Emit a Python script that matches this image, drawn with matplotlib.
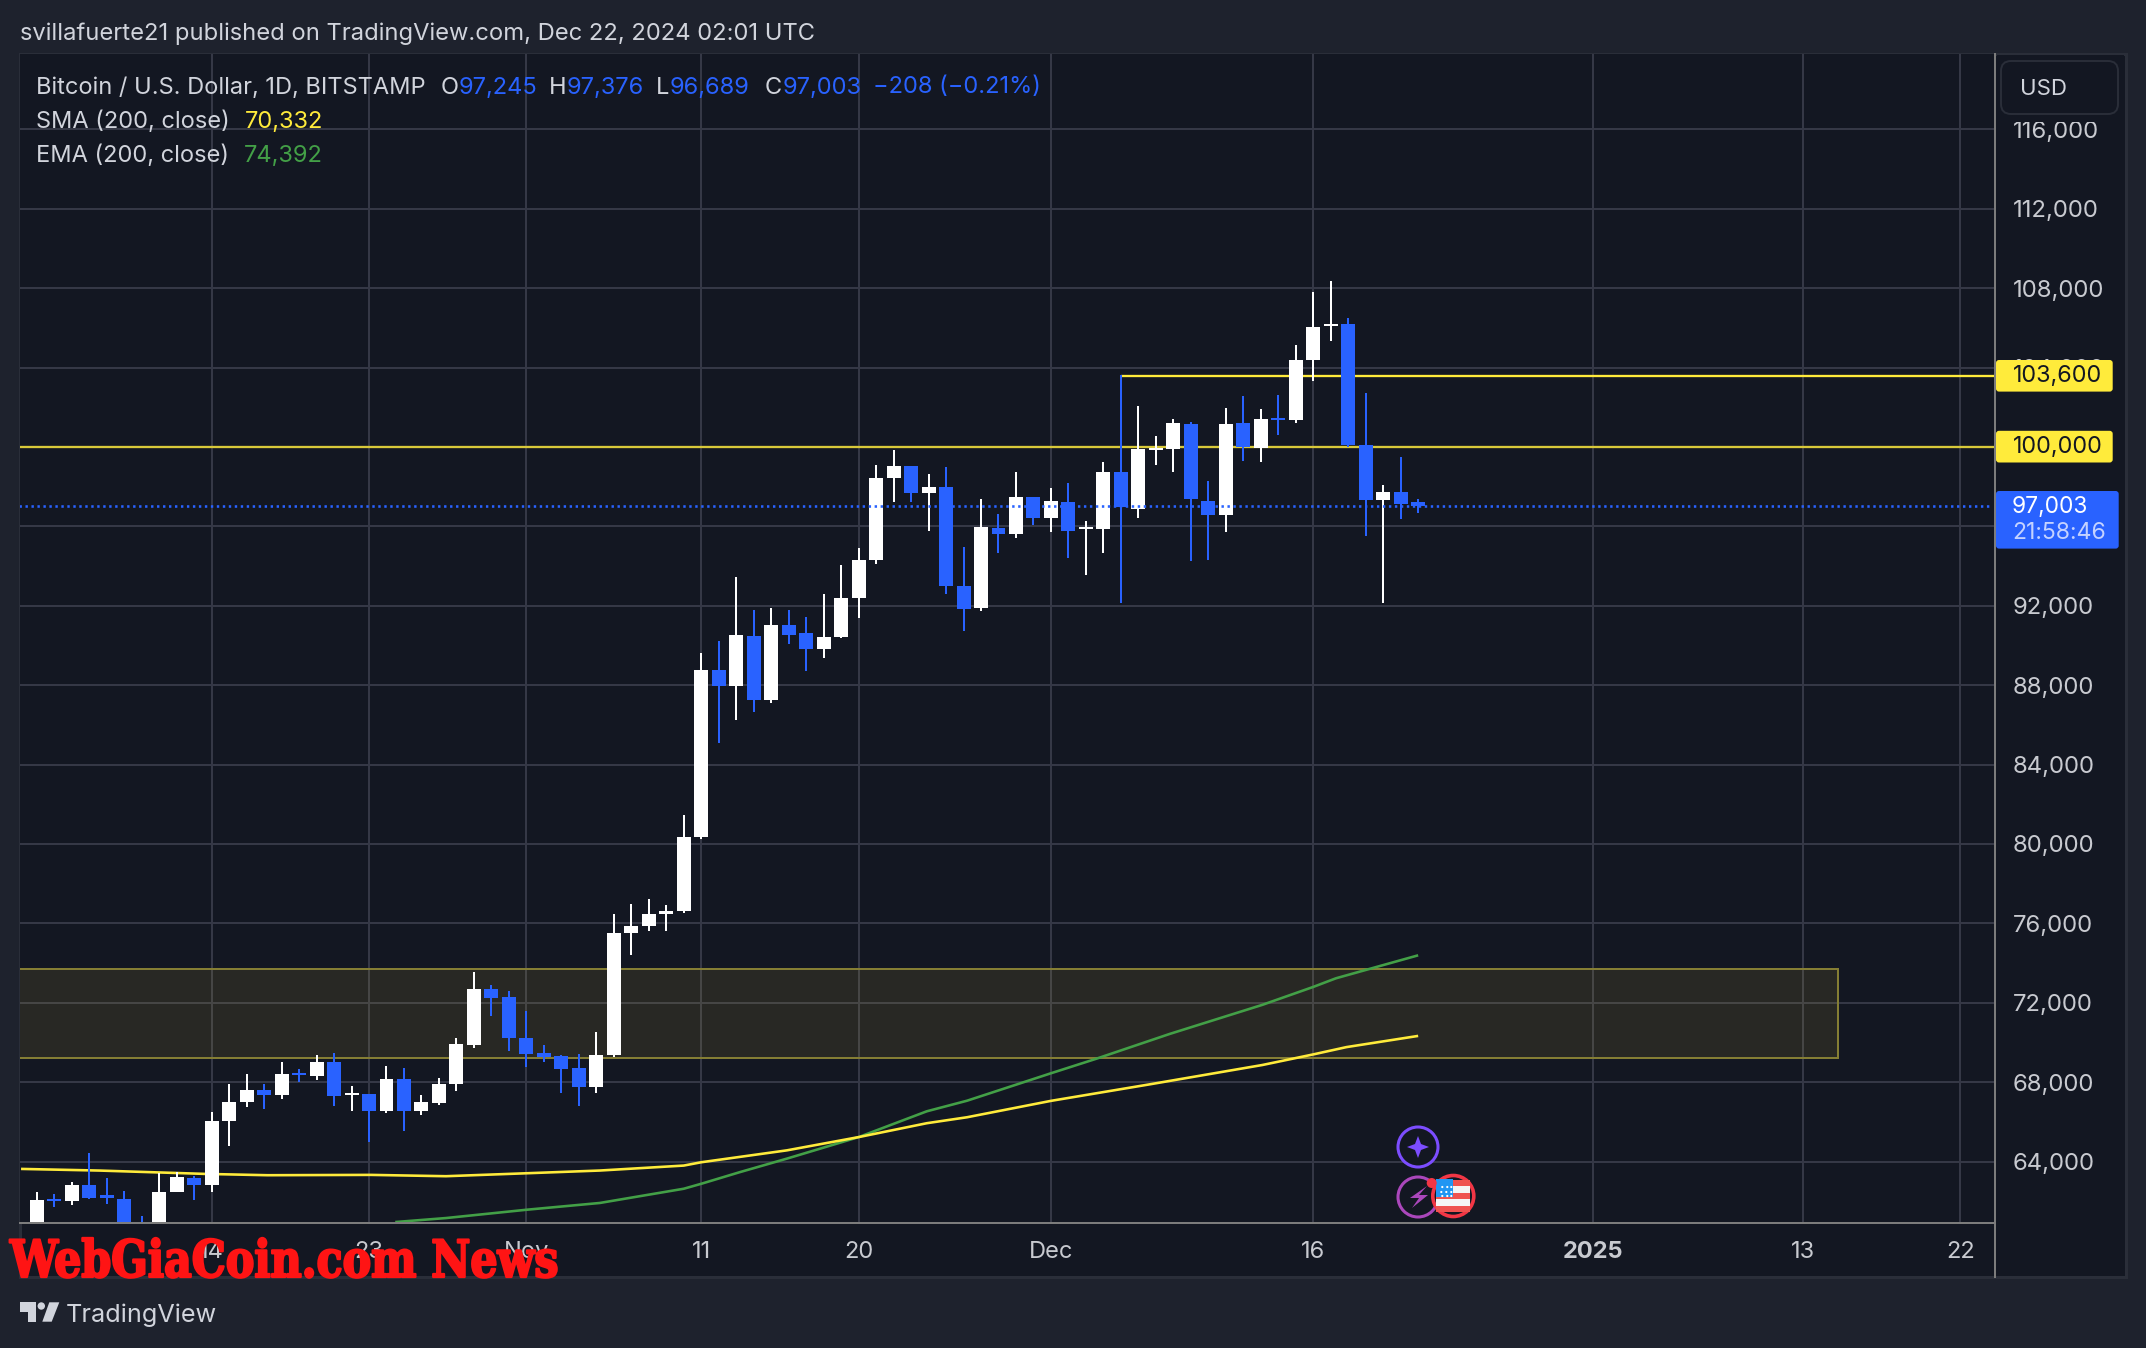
import matplotlib
matplotlib.use("Agg")
import matplotlib.pyplot as plt
from matplotlib.patches import Rectangle, FancyBboxPatch, Circle, Polygon
from matplotlib.lines import Line2D
from matplotlib.transforms import Affine2D
from matplotlib.ticker import FuncFormatter
import matplotlib.patheffects as pe

plt.rcParams['font.family'] = ['Inter', 'DejaVu Sans']

# day index: 0 = 14 Oct 2024
days = list(range(-11, 70))
opens = [60000, 60800, 62120, 62026, 62829, 62300, 62126, 60500, 60600, 62478, 63180, 62829, 66041, 66995, 67597, 67346,
         68450, 68300, 69002, 67350, 67396, 66543, 68149, 66543, 66944, 67898, 69856, 72716, 72315, 70207, 69454, 69304,
         68701, 67748, 69354, 75532, 75845, 76488, 76645, 80332, 88766, 87983, 90488, 87253, 91044, 90644, 89827, 90435,
         92400, 94313, 98417, 99026, 97704, 98000, 93009, 91896, 95930, 95635, 97496, 96435, 97252, 95878, 95875, 98742,
         96881, 99849, 99899, 101157, 97283, 96579, 101207, 99950, 101459, 101358, 104377, 106087, 106188, 100101, 97334,
         97736, 97245]
highs = [61457, 62461, 62377, 62979, 64418, 63180, 62528, 61273, 63414, 63481, 63280, 66493, 67898, 68400, 67898, 69002,
         68651, 69354, 69454, 67798, 67396, 68802, 68701, 67346, 68199, 70207, 73570, 72917, 72616, 71562, 69856, 69354,
         69404, 70508, 76453, 76958, 77254, 76906, 81445, 89618, 90227, 93461, 91792, 91896, 91792, 91444, 92609, 94070,
         94922, 99113, 99826, 99026, 98661, 98974, 94974, 97356, 96643, 98765, 97496, 97913, 98209, 96296, 99245, 103622,
         102063, 100553, 101409, 101258, 98289, 101962, 102566, 101912, 102616, 105132, 107798, 108351, 106490, 102717, 98088,
         99497, 97376]
lows = [59500, 60300, 61725, 61825, 62126, 61875, 60000, 60000, 60300, 62478, 62076, 62478, 64786, 66744, 66643, 67145,
        67998, 68099, 66794, 66543, 64987, 66443, 65539, 66342, 66844, 67547, 69705, 71311, 69554, 68751, 69002, 67446,
        66794, 67446, 69270, 74419, 75636, 75636, 76541, 80228, 85097, 86244, 86644, 87096, 90087, 88714, 89374, 90383,
        91392, 94122, 97252, 97252, 95791, 92609, 90731, 91740, 94678, 95426, 96087, 95739, 94417, 93565, 94667, 92118,
        96428, 99094, 98742, 94265, 94315, 95724, 99296, 99245, 100604, 101207, 103320, 105333, 100000, 95522, 92118,
        96378, 96689]
closes = [60700, 62076, 62030, 62829, 62176, 62190, 60500, 60300, 62478, 63230, 62829, 66041, 66995, 67597, 67346, 68400,
          68350, 69002, 67296, 67450, 66543, 68149, 66543, 66995, 67898, 69906, 72716, 72265, 70207, 69404, 69253, 68651,
          67748, 69354, 75532, 75845, 76488, 76645, 80332, 88766, 87983, 90540, 87253, 91044, 90540, 89827, 90435, 92400,
          94313, 98417, 99026, 97704, 98000, 93009, 91844, 95983, 95635, 97496, 96400, 97304, 95791, 95983, 98742, 96981,
          99899, 99950, 101207, 97384, 96579, 101157, 100000, 101409, 101358, 104377, 106037, 106188, 100101, 97334, 97736,
          97132, 97003]

sma_days = [-10.9, -6.4, -0.4, 3.2, 9.1, 13.4, 18.05, 22.2, 27, 28, 32.9, 37, 40.9, 43.2, 48, 53.7, 60.1, 63, 64.9, 69]
sma_vals = [63632, 63548, 63381, 63314, 63331, 63264, 63414, 63550, 63800, 63967, 64567, 65234, 65934, 66234, 67060,
            67900, 68868, 69400, 69768, 70332]
ema_days = [10.5, 13.4, 18, 22.2, 27, 28, 30.2, 32.9, 37, 40.9, 43.2, 48, 50.6, 54.8, 60.1, 63, 64.3, 69]
ema_vals = [60955, 61156, 61574, 61916, 62633, 62883, 63467, 64150, 65234, 66534, 67067, 68450, 69184, 70434, 71900,
            72800, 73235, 74392]

y_ticks = [64000, 68000, 72000, 76000, 80000, 84000, 88000, 92000, 96000, 100000, 104000, 108000, 112000, 116000]
x_ticks = [0, 9, 18, 28, 37, 48, 63, 79, 91, 100]
x_labels = ['14', '23', 'Nov', '11', '20', 'Dec', '16', '2025', '13', '22']
level_prices = [100000, 103600]
zone_low, zone_high = 69234, 73703
zone_end_day = 93.0
last_price = 97003

BG = '#1e222d'; PANEL = '#131722'; GRID = '#353846'; AXIS = '#7c7c7c'; FRAME = '#2a2e39'
WHITE = '#ffffff'; BLUE = '#2962ff'; YEL = '#ffeb3b'; GREEN = '#43a047'; TXT = '#d1d4dc'; TICK = '#c8cad0'

W, H = 2146, 1348
PX = 0.72  # points per pixel at dpi 100
fig = plt.figure(figsize=(W / 100, H / 100), dpi=100, facecolor=BG)
px = Affine2D().scale(1, -1).translate(0, H)


class Squeeze(pe.AbstractPathEffect):
    """Narrow the glyphs of a text horizontally around a fixed x (in pixels)."""

    def __init__(self, x0, sx, stroke):
        super().__init__()
        self.x0, self.sx, self.stroke = x0, sx, stroke

    def draw_path(self, renderer, gc, tpath, affine, rgbFace):
        t = affine + Affine2D().translate(-self.x0, 0).scale(self.sx, 1).translate(self.x0, 0)
        gc0 = renderer.new_gc()
        gc0.copy_properties(gc)
        gc0.set_linewidth(self.stroke)
        gc0.set_foreground(rgbFace)
        renderer.draw_path(gc0, tpath, t, rgbFace)
        gc0.restore()


# full panel underneath
fig.add_artist(Rectangle((20, 54), 2106, 1223, transform=px, fc=PANEL, ec=FRAME, lw=3 * PX, zorder=0))

L, R, T, B = 20, 1995, 54, 1222.7
ax = fig.add_axes([L / W, 1 - B / H, (R - L) / W, (B - T) / H], facecolor=PANEL)
ax.set_xlim(-10.96, 101.99)
ax.set_ylim(60922, 119798)
for s in ax.spines.values():
    s.set_visible(False)

ax.set_axisbelow(True)
ax.grid(True, color=GRID, lw=2 * PX)
ax.yaxis.tick_right()
ax.set_yticks(y_ticks)
ax.yaxis.set_major_formatter(FuncFormatter(lambda v, _: f'{int(v):,}'))
ax.tick_params(axis='y', length=0, pad=13, labelsize=17.2, labelcolor=TICK)
ax.set_xticks(x_ticks)
ax.set_xticklabels(x_labels)
ax.tick_params(axis='x', length=0, pad=13, labelsize=17, labelcolor=TICK)
for t, lab in zip(ax.get_xticklabels(), x_labels):
    if lab == '2025':
        t.set_fontweight('bold')

# support / resistance zone
ax.add_patch(Rectangle((-12, zone_low), zone_end_day + 12, zone_high - zone_low, fc='#fcd443', alpha=0.09, ec='none', zorder=1.6))
ax.add_patch(Rectangle((-12, zone_low), zone_end_day + 12, zone_high - zone_low, fc='none', ec='#857e34', lw=2 * PX, zorder=1.7))

# levels
ax.plot([-11, 102], [level_prices[0]] * 2, color='#d8c93a', lw=2.3 * PX, zorder=2, solid_capstyle='butt')
ax.plot([52, 102], [level_prices[1]] * 2, color=YEL, lw=2.3 * PX, zorder=2, solid_capstyle='butt')

# moving averages
ax.plot(ema_days, ema_vals, color=GREEN, lw=2.6 * PX, zorder=2.2, solid_capstyle='butt')
ax.plot(sma_days, sma_vals, color=YEL, lw=2.6 * PX, zorder=2.3, solid_capstyle='butt')

# candles
colors = [BLUE if c < o else WHITE for o, c in zip(opens, closes)]
ax.vlines(days, lows, highs, colors=colors, lw=2 * PX, zorder=3)
ax.bar(days, [abs(c - o) for o, c in zip(opens, closes)], bottom=[min(o, c) for o, c in zip(opens, closes)],
       width=0.8, color=colors, linewidth=0, zorder=3.1)

# last price line
ax.plot([-11, 101.7], [last_price] * 2, color=BLUE, lw=2.6 * PX, zorder=3.5, linestyle=(0, (0.92, 1.38)), dash_capstyle='butt')

# axis lines
fig.add_artist(Line2D([20, 1995], [B, B], transform=px, color=AXIS, lw=2 * PX, zorder=5))
fig.add_artist(Line2D([1995, 1995], [54, 1277], transform=px, color=AXIS, lw=2 * PX, zorder=5))


def ptext(x, y, s, color=TXT, size=16, ha='left', va='center', **kw):
    return ax.text(x, y, s, transform=px, color=color, fontsize=size, ha=ha, va=va, clip_on=False, zorder=20, **kw)


def padd(p):
    p.set_clip_on(False)
    p.set_transform(px)
    ax.add_patch(p)
    return p


# hide top tick behind the currency button
padd(Rectangle((1997, 55), 127, 67, fc=PANEL, ec='none', zorder=12))
padd(FancyBboxPatch((2004, 64), 111, 47, boxstyle='round,pad=3,rounding_size=10', fc=PANEL, ec=FRAME, lw=1.4, zorder=13))
ptext(2020, 89, 'USD', size=16, color=TXT)

# price labels
for top, bot, txt in [(360, 391.6, '103,600'), (430.8, 462.5, '100,000')]:
    padd(FancyBboxPatch((1999, top + 3), 110.7, bot - top - 6, boxstyle='round,pad=3,rounding_size=3', fc=YEL, ec='none', zorder=13))
    ptext(2013, (top + bot) / 2 + 0.5, txt, color='#131722', size=16.8)
padd(FancyBboxPatch((1999, 494), 116.7, 51.6, boxstyle='round,pad=3,rounding_size=3', fc=BLUE, ec='none', zorder=13))
ptext(2012, 507, '97,003', color='#ffffff', size=16.4)
ptext(2012, 533, '21:58:46', color='#c4d2ff', size=16.6)

# header and legend
ptext(20, 34, 'svillafuerte21 published on TradingView.com, Dec 22, 2024 02:01 UTC', size=17.1)
ptext(36, 87.5, 'Bitcoin / U.S. Dollar, 1D, BITSTAMP', size=17)
for x, s, c in [(441, 'O', TXT), (459, '97,245', BLUE), (549, 'H', TXT), (567, '97,376', BLUE), (656, 'L', TXT),
                (670, '96,689', BLUE), (765, 'C', TXT), (783, '97,003', BLUE), (873, '−208 (−0.21%)', BLUE)]:
    ptext(x, 87.5, s, color=c, size=17)
ptext(36, 121.5, 'SMA (200, close)', size=17)
ptext(245, 121.5, '70,332', color=YEL, size=17)
ptext(36, 155.5, 'EMA (200, close)', size=17)
ptext(244, 155.5, '74,392', color=GREEN, size=17)

# icons
VIO = '#7c4dff'; MAG = '#ab47bc'; RED = '#f23645'
padd(Circle((1418, 1147), 20, fc=PANEL, ec=VIO, lw=2.2, zorder=14))
cx, cy = 1418, 1147
padd(Polygon([(cx, cy - 11), (cx + 3, cy - 3), (cx + 11, cy), (cx + 3, cy + 3), (cx, cy + 11), (cx - 3, cy + 3), (cx - 11, cy), (cx - 3, cy - 3)],
             closed=True, fc=VIO, ec='none', zorder=15))
padd(Circle((1418, 1197), 20, fc=PANEL, ec=MAG, lw=2.2, zorder=14))
cx, cy = 1418, 1197
padd(Polygon([(cx + 9, cy - 11), (cx - 8, cy + 1), (cx + 1, cy + 1), (cx - 6, cy + 11), (cx + 10, cy - 2), (cx + 1, cy - 2)],
             closed=True, fc=MAG, ec='none', zorder=15))
fx, fy = 1453.3, 1196
padd(Circle((fx, fy), 20.5, fc=PANEL, ec=RED, lw=2.6, zorder=15))
clip = padd(Circle((fx, fy), 16, fc='#f5f5f5', ec='none', zorder=16))
for i, col in enumerate(['#ef5350', '#f5f5f5', '#ef5350', '#f5f5f5', '#ef5350']):
    r = padd(Rectangle((fx - 17, fy - 16 + i * 6.4), 34, 6.4, fc=col, ec='none', zorder=16.1))
    r.set_clip_path(clip)
r = padd(Rectangle((fx - 17, fy - 17), 17, 17.5, fc='#2196f3', ec='none', zorder=16.2))
r.set_clip_path(clip)
for sx, sy in [(-11, -9), (-6, -9), (-2, -9), (-12, -4), (-7, -4), (-2, -4), (-11, 0), (-6, 0), (-2, 0)]:
    padd(Circle((fx + sx, fy + sy), 1.1, fc='white', ec='none', zorder=16.3))
padd(Circle((1431.7, 1183), 5, fc=RED, ec='none', zorder=17))

# TradingView logo
c = '#d1d4dc'
padd(Polygon([(20, 1302.3), (35.7, 1302.3), (35.7, 1321.7), (27.7, 1321.7), (27.7, 1311.7), (20, 1311.7)], closed=True, fc=c, ec='none', zorder=14))
padd(Circle((41.3, 1306), 3.7, fc=c, ec='none', zorder=14))
padd(Polygon([(49.3, 1302.3), (59.3, 1302.3), (51.7, 1321.7), (42.3, 1321.7)], closed=True, fc=c, ec='none', zorder=14))
ptext(66, 1315.5, 'TradingView', size=18.2, color=c)

# watermark
ptext(10, 1277, 'WebGiaCoin.com News', color='#ff1414', size=37, va='baseline',
      family=['DejaVu Serif'], fontweight='bold', stretch='condensed',
      path_effects=[Squeeze(10, 0.925, 1.6)]).set_zorder(30)

fig.savefig('out.png', dpi=100, facecolor=BG)
